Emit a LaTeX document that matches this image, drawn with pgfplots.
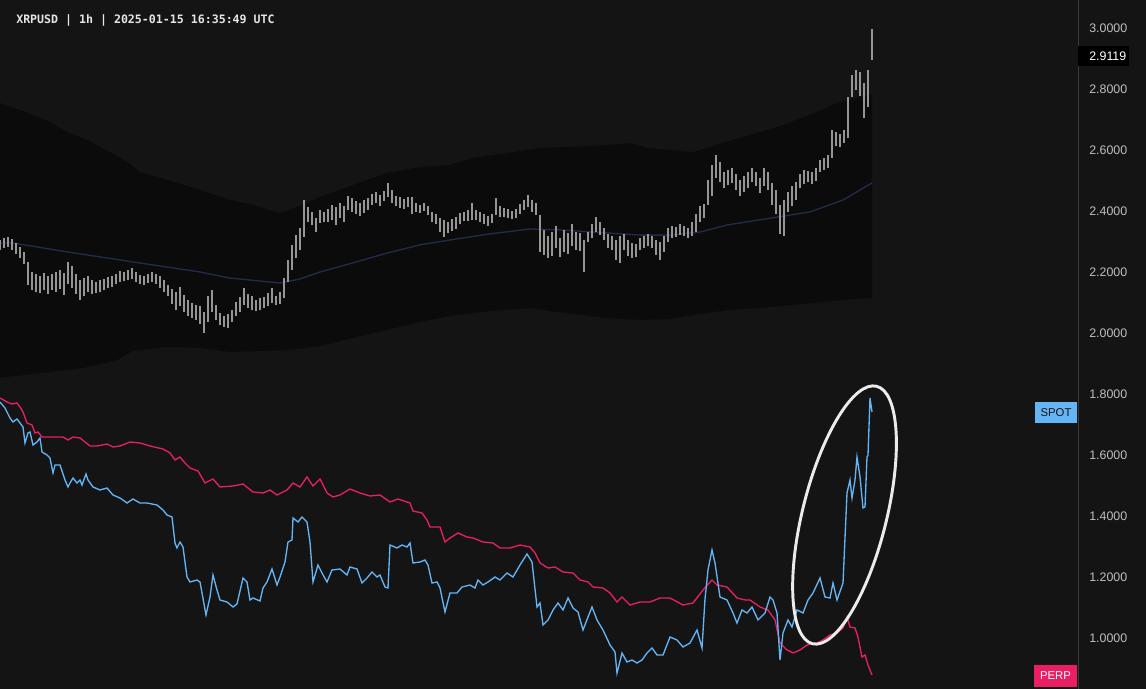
\documentclass[border=0pt]{standalone}
\usepackage{pgfplots}
\pgfplotsset{compat=1.18}
\usepackage{pgfplotstable}
\usepackage{fontspec}
\setmainfont{Liberation Sans}
\newfontfamily\titlefont{DejaVu Sans Mono}

\definecolor{bg}{RGB}{20,20,20}
\definecolor{band}{RGB}{12,11,11}
\definecolor{candle}{RGB}{150,150,150}
\definecolor{ma}{RGB}{34,44,72}
\definecolor{spot}{RGB}{100,181,246}
\definecolor{perp}{RGB}{233,30,99}
\definecolor{ticktext}{RGB}{190,190,190}
\definecolor{sep}{RGB}{58,58,58}

% hourly candles: x (bar position), low, high
\pgfplotstableread{
x lo hi
0 2.272 2.305
4 2.279 2.311
8 2.282 2.315
12 2.272 2.308
16 2.259 2.295
20 2.246 2.282
24 2.226 2.266
28 2.157 2.233
32 2.141 2.200
36 2.134 2.194
40 2.131 2.187
44 2.141 2.197
48 2.128 2.187
52 2.141 2.194
56 2.134 2.200
60 2.144 2.207
64 2.124 2.197
68 2.161 2.233
72 2.147 2.220
76 2.128 2.194
80 2.108 2.174
84 2.121 2.180
88 2.134 2.187
92 2.128 2.174
96 2.131 2.167
100 2.134 2.174
104 2.141 2.177
108 2.147 2.184
112 2.151 2.187
116 2.161 2.194
120 2.167 2.203
124 2.170 2.200
128 2.174 2.207
132 2.177 2.213
136 2.167 2.200
140 2.161 2.190
144 2.157 2.187
148 2.164 2.194
152 2.167 2.200
156 2.161 2.194
160 2.147 2.187
164 2.134 2.174
168 2.121 2.157
172 2.095 2.144
176 2.075 2.134
180 2.088 2.151
184 2.069 2.124
188 2.056 2.108
192 2.049 2.098
196 2.043 2.092
200 2.029 2.088
204 2.000 2.069
208 2.036 2.121
212 2.069 2.141
216 2.043 2.092
220 2.026 2.066
224 2.020 2.056
228 2.016 2.062
232 2.036 2.075
236 2.056 2.102
240 2.069 2.118
244 2.092 2.147
248 2.082 2.128
252 2.075 2.121
256 2.072 2.108
260 2.075 2.115
264 2.082 2.118
268 2.088 2.131
272 2.098 2.147
276 2.092 2.121
280 2.095 2.134
284 2.115 2.180
288 2.167 2.239
292 2.207 2.289
296 2.246 2.321
300 2.272 2.344
304 2.315 2.436
308 2.364 2.413
312 2.354 2.397
316 2.331 2.377
320 2.361 2.403
324 2.364 2.397
328 2.364 2.407
332 2.370 2.420
336 2.354 2.413
340 2.377 2.426
344 2.364 2.416
348 2.403 2.449
352 2.397 2.443
356 2.390 2.433
360 2.384 2.426
364 2.394 2.436
368 2.403 2.443
372 2.420 2.456
376 2.426 2.462
380 2.416 2.453
384 2.433 2.466
388 2.446 2.492
392 2.426 2.469
396 2.416 2.449
400 2.410 2.446
404 2.407 2.439
408 2.413 2.446
412 2.390 2.446
416 2.397 2.426
420 2.394 2.420
424 2.400 2.426
428 2.387 2.416
432 2.364 2.397
436 2.357 2.390
440 2.331 2.377
444 2.315 2.370
448 2.328 2.364
452 2.334 2.374
456 2.341 2.380
460 2.357 2.394
464 2.367 2.397
468 2.367 2.403
472 2.370 2.426
476 2.370 2.403
480 2.364 2.397
484 2.357 2.390
488 2.351 2.384
492 2.361 2.390
496 2.387 2.443
500 2.380 2.416
504 2.380 2.410
508 2.377 2.407
512 2.374 2.400
516 2.377 2.407
520 2.390 2.423
524 2.403 2.436
528 2.413 2.453
532 2.397 2.436
536 2.387 2.426
540 2.266 2.387
544 2.256 2.338
548 2.246 2.318
552 2.252 2.331
556 2.279 2.351
560 2.249 2.311
564 2.266 2.338
568 2.259 2.328
572 2.285 2.357
576 2.272 2.331
580 2.269 2.328
584 2.200 2.305
588 2.298 2.331
592 2.311 2.357
596 2.331 2.380
600 2.321 2.364
604 2.305 2.344
608 2.279 2.325
612 2.272 2.318
616 2.239 2.305
620 2.229 2.318
624 2.272 2.325
628 2.252 2.305
632 2.246 2.295
636 2.249 2.292
640 2.272 2.311
644 2.279 2.318
648 2.285 2.325
652 2.279 2.318
656 2.256 2.305
660 2.239 2.298
664 2.266 2.318
668 2.298 2.344
672 2.311 2.351
676 2.315 2.348
680 2.321 2.357
684 2.318 2.351
688 2.311 2.344
692 2.318 2.364
696 2.331 2.390
700 2.364 2.416
704 2.377 2.423
708 2.420 2.502
712 2.449 2.551
716 2.508 2.584
720 2.495 2.561
724 2.475 2.528
728 2.485 2.534
732 2.492 2.541
736 2.469 2.521
740 2.449 2.502
744 2.462 2.515
748 2.475 2.528
752 2.495 2.541
756 2.482 2.528
760 2.459 2.508
764 2.482 2.541
768 2.469 2.528
772 2.420 2.492
776 2.390 2.469
780 2.325 2.420
784 2.318 2.436
788 2.397 2.462
792 2.416 2.482
796 2.436 2.495
800 2.475 2.521
804 2.488 2.534
808 2.495 2.531
812 2.488 2.528
816 2.498 2.541
820 2.528 2.567
824 2.534 2.574
828 2.541 2.584
832 2.574 2.666
836 2.613 2.659
840 2.610 2.652
844 2.623 2.666
848 2.639 2.774
852 2.774 2.846
856 2.797 2.862
860 2.777 2.856
864 2.705 2.820
868 2.741 2.862
872 2.895 2.997
}\candles

% envelope around price: upper edge left to right, then lower edge back
\pgfplotstableread{
x y
0 2.754
20 2.731
50 2.692
67 2.659
87 2.633
110 2.593
127 2.561
140 2.528
167 2.502
200 2.469
230 2.436
253 2.420
280 2.393
297 2.413
320 2.446
353 2.485
387 2.525
420 2.544
450 2.551
473 2.574
507 2.590
540 2.607
573 2.610
607 2.616
630 2.623
647 2.607
670 2.600
693 2.593
710 2.610
743 2.643
777 2.675
810 2.715
837 2.754
860 2.774
872 2.780
872 2.115
843 2.108
793 2.092
760 2.082
727 2.075
700 2.062
670 2.046
640 2.043
607 2.049
557 2.069
530 2.082
490 2.072
450 2.056
420 2.036
387 2.010
353 1.984
320 1.957
287 1.944
260 1.941
230 1.938
200 1.951
167 1.954
133 1.941
117 1.911
83 1.885
33 1.866
0 1.853
}\envelope

\begin{document}
\begin{tikzpicture}
\fill[bg] (0,0) rectangle (859.5pt,516.75pt);

\begin{axis}[
    at={(0,0)}, anchor=south west,
    scale only axis, width=808.5pt, height=516.75pt,
    xmin=0, xmax=1078, ymin=0.8328, ymax=3.0918,
    axis line style={draw=none},
    xtick=\empty,
    ytick={1,1.2,1.4,1.6,1.8,2,2.2,2.4,2.6,2.8,3},
    yticklabel pos=right,
    major tick length=0pt,
    yticklabel style={font=\fontsize{9.3}{11}\selectfont, text=ticktext,
        anchor=west, inner sep=0pt, xshift=8.25pt,
        /pgf/number format/.cd, fixed, fixed zerofill, precision=4,
        assume math mode=true},
]
    \addplot[fill=band, draw=none, forget plot] table {\envelope} -- cycle;

    % moving average
    \addplot[ma, line width=1pt] coordinates {
        (0,2.295) (13,2.295) (67,2.266) (133,2.233) (200,2.200) (230,2.180)
        (280,2.164) (300,2.177) (320,2.200) (353,2.230) (387,2.262) (420,2.289)
        (450,2.305) (490,2.325) (530,2.341) (560,2.338) (607,2.328) (640,2.321)
        (670,2.321) (700,2.331) (727,2.354) (777,2.380) (810,2.397) (843,2.436)
        (872,2.492)
    };

    % candles, low to high
    \addplot[candle, only marks, mark=*, mark size=0pt,
        mark options={draw=none, fill=none},
        error bars/.cd, y dir=plus, y explicit, error mark=none,
        error bar style={candle, line width=1.1pt}]
        table[x=x, y=lo, y error plus expr=\thisrow{hi}-\thisrow{lo}] {\candles};
\end{axis}

% SPOT and PERP indicator (own scale, not shown)
\begin{axis}[
    at={(0,0)}, anchor=south west,
    scale only axis, width=808.5pt, height=516.75pt,
    xmin=0, xmax=1078, ymin=0, ymax=689,
    hide axis,
]
    \addplot[perp, line width=1pt] coordinates {
        (0,291) (7,287) (12,285) (17,286) (20,282) (23,277) (27,266) (32,264)
        (35,256) (38,257) (42,252) (50,252) (57,252) (63,252) (68,249) (73,252)
        (80,251) (90,243) (97,243) (107,245) (113,242) (120,243) (130,247)
        (140,246) (150,243) (163,240) (170,236) (175,229) (180,232) (185,226)
        (190,221) (198,218) (205,206) (213,210) (220,202) (233,203) (243,205)
        (253,197) (263,196) (270,199) (277,194) (287,199) (293,206) (300,202)
        (307,212) (313,203) (320,210) (327,196) (333,192) (340,194) (350,200)
        (360,196) (370,193) (380,194) (390,187) (398,190) (410,186) (413,178)
        (422,176) (427,169) (430,162) (440,162) (445,147) (450,151) (458,156)
        (467,152) (473,151) (483,147) (493,146) (500,141) (510,141) (520,144)
        (530,142) (535,136) (540,126) (548,121) (555,122) (563,117) (573,116)
        (580,109) (588,107) (593,102) (603,101) (610,96) (617,87) (622,92)
        (630,84) (640,87) (650,87) (660,91) (670,91) (683,84) (693,86) (703,99)
        (712,109) (717,104) (727,102) (737,91) (745,89) (750,89) (760,82)
        (768,79) (775,69) (780,46) (787,39) (793,36) (800,39) (807,44) (817,46)
        (823,49) (830,54) (837,56) (843,61) (847,72) (850,62) (855,61) (858,52)
        (862,32) (865,34) (868,24) (872,14)
    };
    \addplot[spot, line width=1pt] coordinates {
        (0,287) (5,281) (10,271) (13,267) (17,270) (20,266) (23,262) (25,246)
        (28,256) (30,257) (33,244) (37,247) (40,251) (42,237) (47,234) (50,231)
        (53,216) (55,224) (60,224) (65,209) (68,202) (70,206) (73,211) (77,206)
        (80,209) (82,204) (86,215) (88,209) (93,202) (100,199) (107,201)
        (113,194) (120,191) (127,186) (133,190) (140,186) (147,186) (157,184)
        (163,179) (167,174) (172,172) (175,146) (177,141) (180,147) (183,142)
        (187,112) (190,107) (197,109) (200,107) (206,74) (210,92) (213,114)
        (217,99) (220,89) (227,87) (233,82) (237,85) (243,111) (247,107)
        (250,89) (253,91) (260,88) (263,101) (267,107) (272,120) (277,104)
        (280,112) (285,127) (288,147) (292,149) (293,171) (298,167) (302,172)
        (307,167) (310,147) (313,107) (318,124) (322,116) (327,107) (332,119)
        (340,120) (347,114) (350,122) (357,120) (362,106) (367,111) (372,117)
        (377,112) (380,114) (385,102) (388,101) (390,144) (397,141) (402,144)
        (407,142) (410,146) (413,126) (420,127) (425,129) (428,124) (432,106)
        (437,107) (440,101) (445,77) (450,96) (457,96) (462,102) (470,104)
        (475,101) (478,109) (483,104) (488,107) (495,112) (500,109) (507,116)
        (513,112) (520,124) (527,135) (532,127) (537,82) (540,86) (543,64)
        (548,69) (553,79) (558,86) (563,79) (568,91) (573,81) (578,77) (583,59)
        (588,72) (592,82) (597,69) (603,59) (610,44) (615,37) (617,16) (622,36)
        (627,27) (632,29) (637,26) (642,29) (647,36) (652,41) (657,34) (663,34)
        (670,52) (677,49) (683,42) (690,46) (697,59) (702,41) (705,90) (708,119)
        (712,139) (715,126) (720,92) (727,89) (733,76) (737,66) (742,79)
        (747,76) (752,82) (758,69) (765,76) (770,92) (773,89) (777,76) (780,29)
        (783,56) (788,69) (792,62) (797,79) (803,76) (808,89) (813,96) (820,111)
        (825,92) (830,91) (833,106) (837,89) (843,106) (847,196) (850,209)
        (852,191) (855,209) (857,232) (860,212) (863,181) (865,182) (867,232)
        (868,234) (870,291) (872,277)
    };
\end{axis}

% highlight around the spot surge
\draw[white!92!black, line width=2.2pt, rotate around={76:(633.4pt,130.5pt)}]
    (633.4pt,130.5pt) ellipse (99.5pt and 31.5pt);

% price scale separator and tags
\draw[sep, line width=0.75pt] (808.5pt,0) -- (808.5pt,516.75pt);
\fill[black] (808.5pt,467.25pt) rectangle (846.75pt,482.25pt);
\node[anchor=west, inner sep=0pt, text=white, font=\fontsize{9.3}{11}\selectfont]
    at (816.75pt,474.75pt) {2.9119};
\fill[spot] (776.25pt,199.5pt) rectangle (807.75pt,215.25pt);
\node[text=bg, font=\fontsize{8.5}{10}\selectfont, inner sep=0pt]
    at (792pt,207.4pt) {SPOT};
\fill[perp] (775.5pt,1.5pt) rectangle (807.75pt,18pt);
\node[text=white, font=\fontsize{8.5}{10}\selectfont, inner sep=0pt]
    at (791.6pt,9.75pt) {PERP};

\node[anchor=west, inner sep=0pt, text=white!90!black,
    font=\titlefont\bfseries\fontsize{8.7}{10}\selectfont]
    at (12pt,501.4pt) {XRPUSD | 1h | 2025-01-15 16:35:49 UTC};

\pgfresetboundingbox
\useasboundingbox (0,0) rectangle (859.5pt,516.75pt);
\end{tikzpicture}
\end{document}
